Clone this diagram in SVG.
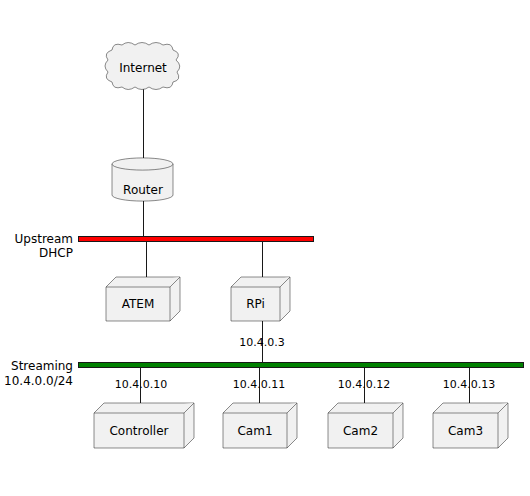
<svg xmlns="http://www.w3.org/2000/svg" width="530" height="496" viewBox="0 0 530 496">
<style>
.shape{fill:#F1F1F1;stroke:#181818;stroke-width:0.5}
.edge{stroke:#181818;stroke-width:1;fill:none}
.lbl{font-family:"DejaVu Sans",sans-serif;font-size:12px;fill:#000;text-anchor:middle}
.ip{font-family:"DejaVu Sans",sans-serif;font-size:11px;fill:#000;text-anchor:middle}
.net{font-family:"DejaVu Sans",sans-serif;font-size:12px;fill:#000;text-anchor:end}
</style>
<rect width="530" height="496" fill="#FFFFFF"/>
<g id="connectors">
<line class="edge" x1="143.5" y1="89" x2="143.5" y2="158"/>
<line class="edge" x1="143.5" y1="201" x2="143.5" y2="236"/>
<line class="edge" x1="146.5" y1="242" x2="146.5" y2="282"/>
<line class="edge" x1="262.5" y1="242" x2="262.5" y2="282"/>
<line class="edge" x1="262.5" y1="321" x2="262.5" y2="362"/>
<line class="edge" x1="140.5" y1="368" x2="140.5" y2="408"/>
<line class="edge" x1="259.5" y1="368" x2="259.5" y2="408"/>
<line class="edge" x1="364.5" y1="368" x2="364.5" y2="408"/>
<line class="edge" x1="469.5" y1="368" x2="469.5" y2="408"/>
<text class="ip" x="262" y="346">10.4.0.3</text>
<text class="ip" x="141" y="388">10.4.0.10</text>
<text class="ip" x="259" y="388">10.4.0.11</text>
<text class="ip" x="364" y="388">10.4.0.12</text>
<text class="ip" x="469" y="388">10.4.0.13</text>
</g>
<g id="upstream">
<rect x="78.5" y="236.5" width="235" height="5" fill="#FF0000" stroke="#181818" stroke-width="1"/>
<text class="net" x="73" y="243">Upstream</text>
<text class="net" x="73" y="257">DHCP</text>
</g>
<g id="streaming">
<rect x="78.5" y="362.5" width="445" height="5" fill="#008000" stroke="#181818" stroke-width="1"/>
<text class="net" x="73" y="370">Streaming</text>
<text class="net" x="73" y="385">10.4.0.0/24</text>
</g>
<g id="internet">
<path class="shape" d="M112 50 Q113 42 122 45 Q128 40 135 45 Q142 40 149 45 Q156 40 163 45 Q172 42 173 50 Q182 53 176 60 Q183 66 177 72 Q182 80 173 82 Q172 90 163 87 Q156 92 149 87 Q142 92 135 87 Q128 92 122 87 Q113 90 112 82 Q103 79 108 72 Q102 66 108 60 Q103 53 112 50 Z"/>
<text class="lbl" x="143" y="72">Internet</text>
</g>
<g id="router">
<path class="shape" d="M112 164 A30 6 0 0 1 173 164 L173 195 A30 6 0 0 1 112 195 Z"/>
<path class="shape" d="M112 164 A30 6 0 0 0 173 164" fill="none"/>
<text class="lbl" x="143" y="194">Router</text>
</g>
<g id="atem">
<path class="shape" d="M106 287 L116 277 L180 277 L180 311 L170 321 L106 321 Z"/>
<path class="shape" d="M106 287 L170 287 L180 277 M170 287 L170 321" fill="none"/>
<text class="lbl" x="138" y="308">ATEM</text>
</g>
<g id="rpi">
<path class="shape" d="M231 287 L241 277 L290 277 L290 311 L280 321 L231 321 Z"/>
<path class="shape" d="M231 287 L280 287 L290 277 M280 287 L280 321" fill="none"/>
<text class="lbl" x="255.5" y="308">RPi</text>
</g>
<g id="controller">
<path class="shape" d="M94 413 L104 403 L194 403 L194 438 L184 448 L94 448 Z"/>
<path class="shape" d="M94 413 L184 413 L194 403 M184 413 L184 448" fill="none"/>
<text class="lbl" x="139" y="435">Controller</text>
</g>
<g id="cam1">
<path class="shape" d="M223 413 L233 403 L297 403 L297 438 L287 448 L223 448 Z"/>
<path class="shape" d="M223 413 L287 413 L297 403 M287 413 L287 448" fill="none"/>
<text class="lbl" x="255" y="435">Cam1</text>
</g>
<g id="cam2">
<path class="shape" d="M328 413 L338 403 L403 403 L403 438 L393 448 L328 448 Z"/>
<path class="shape" d="M328 413 L393 413 L403 403 M393 413 L393 448" fill="none"/>
<text class="lbl" x="360.5" y="435">Cam2</text>
</g>
<g id="cam3">
<path class="shape" d="M433 413 L443 403 L508 403 L508 438 L498 448 L433 448 Z"/>
<path class="shape" d="M433 413 L498 413 L508 403 M498 413 L498 448" fill="none"/>
<text class="lbl" x="465.5" y="435">Cam3</text>
</g>
</svg>
